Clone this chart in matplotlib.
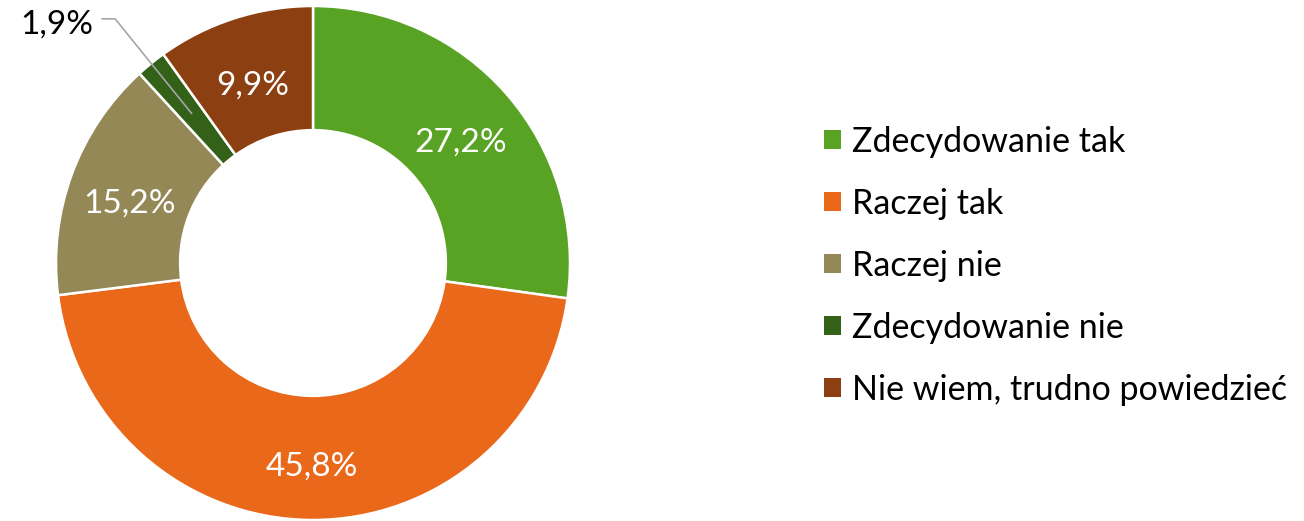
import numpy as np
import matplotlib
matplotlib.use("Agg")
import matplotlib.pyplot as plt
from matplotlib.patches import Patch

plt.rcParams["font.family"] = ["Lato", "DejaVu Sans"]

categories = ["Zdecydowanie tak", "Raczej tak", "Raczej nie", "Zdecydowanie nie", "Nie wiem, trudno powiedzieć"]
shares = [27.2, 45.8, 15.2, 1.9, 9.9]
colors = ["#58A324", "#E9681A", "#948956", "#336118", "#8C3F10"]
label_colors = ["white", "white", "white", "black", "white"]

fig = plt.figure(figsize=(13.04, 5.21), dpi=100)
ax = fig.add_axes([56 / 1304, 1 / 521, 514 / 1304, 514 / 521])

wedges, _ = ax.pie(
    shares,
    colors=colors,
    startangle=90,
    counterclock=False,
    radius=1.0,
    wedgeprops=dict(width=0.483, edgecolor="white", linewidth=1.8),
)
ax.set_xlim(-1, 1)
ax.set_ylim(-1, 1)
ax.set_aspect("equal")
ax.axis("off")


def fmt(v):
    return f"{v:.1f}".replace(".", ",") + "%"


for w, v, tc in zip(wedges, shares, label_colors):
    mid = np.deg2rad((w.theta1 + w.theta2) / 2)
    if v < 5:
        # small slice: label outside with a leader line
        px, py = 0.75 * np.cos(mid), 0.75 * np.sin(mid)
        ty = 0.95
        ax.plot([-0.82, -0.77, px], [ty, ty, py], color="#a6a6a6", lw=1.2, clip_on=False)
        ax.text(-0.855, ty - 0.01, fmt(v), ha="right", va="center_baseline", fontsize=24, color=tc)
    else:
        r = 0.76
        ax.text(r * np.cos(mid), r * np.sin(mid) - 0.02, fmt(v), ha="center", va="center_baseline",
                fontsize=24, color=tc)

handles = [Patch(facecolor=c, edgecolor="none") for c in colors]
fig.legend(
    handles, categories,
    loc="center left", bbox_to_anchor=(824 / 1304, 0.49),
    frameon=False, fontsize=24.5,
    borderaxespad=0, borderpad=0,
    handlelength=0.5, handleheight=0.5, handletextpad=0.33,
    labelspacing=0.88,
)

fig.savefig("out.png", dpi=100)
